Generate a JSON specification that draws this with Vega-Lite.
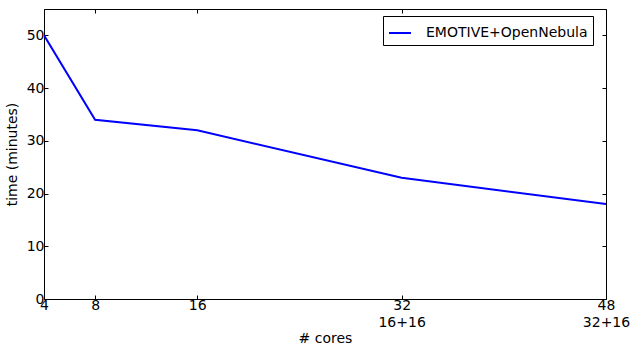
{
  "$schema": "https://vega.github.io/schema/vega-lite/v6.json",
  "width": 562,
  "height": 290,
  "autosize": {"type": "none"},
  "padding": {"left": 44, "top": 9, "right": 25, "bottom": 51},
  "background": "white",
  "config": {
    "font": "DejaVu Sans",
    "view": {"stroke": "black", "strokeWidth": 1},
    "axis": {
      "grid": false,
      "domain": false,
      "tickColor": "black",
      "tickSize": -4,
      "labelFont": "DejaVu Sans",
      "labelFontSize": 14,
      "labelColor": "black",
      "titleFont": "DejaVu Sans",
      "titleFontSize": 14,
      "titleFontWeight": "normal",
      "titleColor": "black"
    }
  },
  "data": {
    "values": [
      {"cores": 4, "time": 50, "series": "EMOTIVE+OpenNebula"},
      {"cores": 8, "time": 34, "series": "EMOTIVE+OpenNebula"},
      {"cores": 16, "time": 32, "series": "EMOTIVE+OpenNebula"},
      {"cores": 32, "time": 23, "series": "EMOTIVE+OpenNebula"},
      {"cores": 48, "time": 18, "series": "EMOTIVE+OpenNebula"}
    ]
  },
  "layer": [
    {
      "mark": {"type": "line", "strokeWidth": 2, "clip": true},
      "encoding": {
        "x": {
          "field": "cores", "type": "quantitative",
          "scale": {"domain": [4, 48], "nice": false, "zero": false},
          "axis": {
            "values": [4, 8, 16, 32, 48],
            "title": "# cores",
            "labelPadding": 3,
            "labelAlign": "center",
            "labelExpr": "datum.value == 32 ? ['32', '16+16'] : datum.value == 48 ? ['48', '32+16'] : datum.label",
            "labelLineHeight": 17,
            "titlePadding": 2
          }
        },
        "y": {
          "field": "time", "type": "quantitative",
          "scale": {"domain": [0, 55], "nice": false},
          "axis": {
            "values": [0, 10, 20, 30, 40, 50],
            "title": "time (minutes)",
            "labelPadding": 4,
            "titlePadding": 7
          }
        },
        "color": {
          "field": "series", "type": "nominal",
          "scale": {"range": ["#0000ff"]},
          "legend": {
            "title": null,
            "orient": "none",
            "legendX": 339,
            "legendY": 7,
            "symbolType": "stroke",
            "symbolSize": 484,
            "symbolStrokeWidth": 2,
            "labelFontSize": 14,
            "labelFont": "DejaVu Sans",
            "labelColor": "black",
            "labelLimit": 400,
            "labelOffset": 14,
            "strokeColor": "black",
            "fillColor": "white",
            "padding": 5,
            "cornerRadius": 0
          }
        }
      }
    },
    {
      "mark": {"type": "line", "opacity": 0},
      "encoding": {
        "x": {
          "field": "cores", "type": "quantitative",
          "axis": {"orient": "top", "values": [4, 8, 16, 32, 48], "labels": false, "title": null}
        },
        "y": {
          "field": "time", "type": "quantitative",
          "axis": {"orient": "right", "values": [0, 10, 20, 30, 40, 50], "labels": false, "title": null}
        }
      }
    }
  ],
  "resolve": {"axis": {"x": "independent", "y": "independent"}}
}
